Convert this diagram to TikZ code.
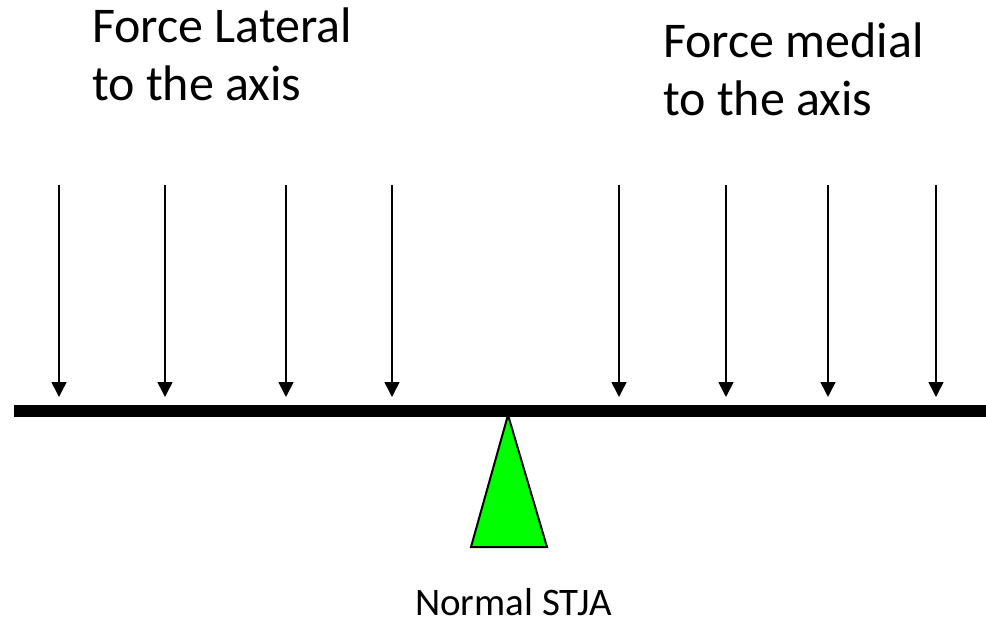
\documentclass[tikz,border=0pt]{standalone}
\usepackage{fontspec}
\setmainfont{Carlito}
\usetikzlibrary{arrows.meta}
\begin{document}
\begin{tikzpicture}[x=1pt,y=-1pt,
  force/.style={line width=1.6pt,-{Triangle[length=15pt,width=15pt]}},
  beam/.style={line width=12pt},
  fulcrum/.style={draw=black,line width=2pt,fill={rgb,255:red,0;green,255;blue,0},line join=miter},
  bigtext/.style={anchor=base west,inner sep=0pt,font=\fontsize{50}{57}\selectfont},
  smalltext/.style={anchor=base west,inner sep=0pt,font=\fontsize{39}{44}\selectfont}]
\useasboundingbox (0,0) rectangle (986,626);
% texts
\node[bigtext] (lat1) at (92,43) {Force Lateral};
\node[bigtext] (lat2) at (92,100) {to the axis};
\node[bigtext] (med1) at (663,58) {Force medial};
\node[bigtext] (med2) at (663,115) {to the axis};
\node[smalltext] (stja) at (415,615) {Normal STJA};
% arrows
\foreach \i/\x in {1/59,2/165,3/286,4/392,5/619,6/726,7/828,8/936}{
  \coordinate (t\i) at (\x,185);
  \coordinate (b\i) at (\x,397);
  \draw[force] (t\i) -- (b\i);
}
% beam
\coordinate (bl) at (14,411);
\coordinate (br) at (986,411);
\draw[beam] (bl) -- (br);
% fulcrum
\coordinate (apex) at (508,415);
\coordinate (fl) at (471,547);
\coordinate (fr) at (547,547);
\draw[fulcrum] (apex) -- (fl) -- (fr) -- cycle;
\end{tikzpicture}
\end{document}
